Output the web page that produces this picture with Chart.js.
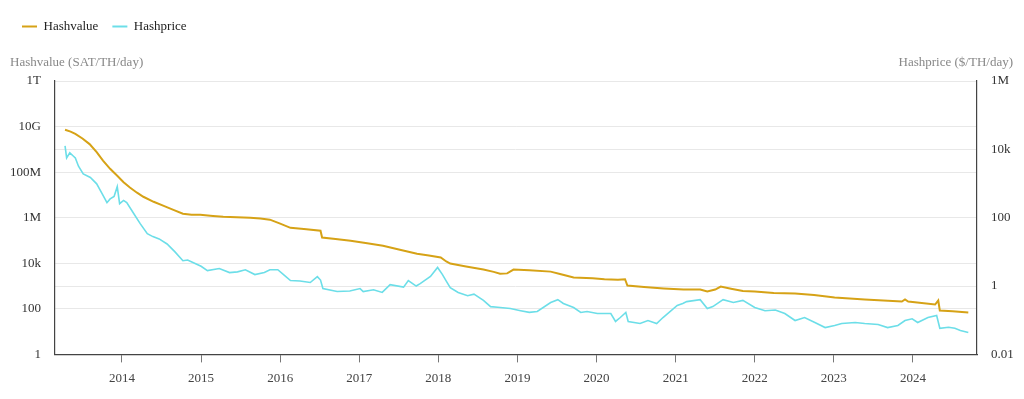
<!DOCTYPE html>
<html>
<head>
<meta charset="utf-8">
<script src="https://cdn.jsdelivr.net/npm/chart.js@4/dist/chart.umd.min.js"></script>
<style>
  html, body { margin: 0; padding: 0; background: #fff; }
  canvas { display: block; }
</style>
</head>
<body>
<canvas id="c" width="1024" height="399" style="width:1024px;height:399px"></canvas>
<script>
// ---- Data (decimal years) ----
const hvYears = [2013.28,2013.35,2013.41,2013.50,2013.59,2013.68,2013.76,2013.85,2013.94,2014.02,2014.10,2014.19,2014.27,2014.40,2014.52,2014.65,2014.77,2014.88,2014.99,2015.15,2015.28,2015.45,2015.62,2015.75,2015.87,2016.00,2016.13,2016.30,2016.51,2016.53,2016.70,2016.89,2017.10,2017.30,2017.50,2017.73,2017.88,2018.03,2018.10,2018.15,2018.35,2018.57,2018.70,2018.78,2018.87,2018.95,2019.15,2019.42,2019.55,2019.71,2019.95,2020.10,2020.27,2020.36,2020.39,2020.60,2020.85,2021.10,2021.31,2021.40,2021.50,2021.57,2021.70,2021.85,2022.00,2022.24,2022.51,2022.75,2023.01,2023.39,2023.86,2023.90,2023.94,2024.28,2024.32,2024.34,2024.50,2024.70];
const hvValues = [7.2e9,6.0e9,4.8e9,3.0e9,1.7e9,7.5e8,3.2e8,1.4e8,6.9e7,3.6e7,2.1e7,1.25e7,8.3e6,5.0e6,3.4e6,2.2e6,1.5e6,1.35e6,1.35e6,1.2e6,1.1e6,1.05e6,1.0e6,9.2e5,8.2e5,5.5e5,3.6e5,3.2e5,2.7e5,1.35e5,1.15e5,9.8e4,7.5e4,5.9e4,4.0e4,2.6e4,2.2e4,1.8e4,1.2e4,9.7e3,7.2e3,5.3e3,4.2e3,3.5e3,3.6e3,5.3e3,4.9e3,4.3e3,3.3e3,2.4e3,2.2e3,2.0e3,1.9e3,2.0e3,1.05e3,900,780,700,705,575,700,950,760,600,575,500,470,400,315,257,210,257,210,155,232,85,78,69];

const hpYears = [2013.28,2013.30,2013.34,2013.38,2013.41,2013.45,2013.51,2013.60,2013.68,2013.75,2013.81,2013.85,2013.90,2013.94,2013.97,2014.02,2014.06,2014.15,2014.23,2014.32,2014.39,2014.47,2014.57,2014.67,2014.77,2014.83,2014.89,2015.00,2015.08,2015.23,2015.36,2015.46,2015.56,2015.68,2015.80,2015.87,2015.97,2016.05,2016.13,2016.25,2016.38,2016.47,2016.51,2016.54,2016.72,2016.88,2017.01,2017.05,2017.18,2017.29,2017.39,2017.56,2017.62,2017.72,2017.77,2017.90,2017.99,2018.05,2018.10,2018.15,2018.25,2018.37,2018.45,2018.57,2018.66,2018.75,2018.91,2019.04,2019.15,2019.25,2019.42,2019.51,2019.58,2019.71,2019.80,2019.88,2020.01,2020.18,2020.24,2020.30,2020.37,2020.40,2020.55,2020.65,2020.76,2020.84,2021.02,2021.09,2021.14,2021.31,2021.40,2021.47,2021.60,2021.73,2021.85,2022.00,2022.13,2022.26,2022.38,2022.51,2022.63,2022.76,2022.89,2023.01,2023.10,2023.27,2023.39,2023.56,2023.68,2023.81,2023.90,2023.99,2024.06,2024.19,2024.30,2024.34,2024.45,2024.53,2024.60,2024.70];
const hpValues = [12600,5600,7900,6500,5600,3200,1900,1500,980,500,275,355,420,810,257,320,275,130,67,34,28,24,17,10,5.5,5.8,5.0,3.8,2.84,3.25,2.48,2.6,3.0,2.17,2.5,3.0,3.0,2.1,1.45,1.4,1.27,1.89,1.5,0.845,0.69,0.72,0.845,0.69,0.78,0.65,1.1,0.93,1.45,1.0,1.18,1.9,3.5,2.2,1.4,0.9,0.65,0.52,0.58,0.38,0.25,0.24,0.22,0.19,0.17,0.18,0.33,0.40,0.31,0.235,0.168,0.18,0.157,0.157,0.092,0.12,0.168,0.092,0.080,0.098,0.080,0.12,0.27,0.31,0.35,0.40,0.22,0.25,0.40,0.33,0.38,0.235,0.19,0.20,0.157,0.098,0.12,0.086,0.061,0.07,0.080,0.086,0.080,0.075,0.061,0.070,0.098,0.11,0.086,0.12,0.138,0.058,0.062,0.058,0.05,0.044];

const xTickYears = [2014,2015,2016,2017,2018,2019,2020,2021,2022,2023,2024];
const leftTickValues = [1,100,1e4,1e6,1e8,1e10,1e12];
const leftTickLabels = ['1','100','10k','1M','100M','10G','1T'];
const rightTickValues = [0.01,1,100,1e4,1e6];
const rightTickLabels = ['0.01','1','100','10k','1M'];
const seriesNames = ['Hashvalue','Hashprice'];
const axisTitles = ['Hashvalue (SAT/TH/day)','Hashprice ($/TH/day)'];

const GOLD = 'rgb(214,162,22)';
const CYAN = 'rgb(108,222,232)';
const FONT = '"Liberation Serif", "Times New Roman", serif';

function pairs(xs, ys) { return xs.map((x, i) => ({ x: x, y: ys[i] })); }
function labelFor(vals, labels) {
  return (v) => { const i = vals.findIndex(t => Math.abs(t - v) / t < 1e-6); return i >= 0 ? labels[i] : ''; };
}

const legendSpace = {
  id: 'legendSpace',
  beforeInit(chart) {
    const orig = chart.legend.fit;
    chart.legend.fit = function () { orig.bind(chart.legend)(); this.height += 38; };
  }
};

const axisTitlePlugin = {
  id: 'axisTitlePlugin',
  afterDraw(chart) {
    const ctx = chart.ctx;
    ctx.save();
    ctx.font = '13px ' + FONT;
    ctx.fillStyle = '#888';
    ctx.textBaseline = 'middle';
    const y = chart.chartArea.top - 18;
    ctx.textAlign = 'left';
    ctx.fillText(axisTitles[0], 10, y);
    ctx.textAlign = 'right';
    ctx.fillText(axisTitles[1], 1013, y);
    ctx.restore();
  }
};

Chart.defaults.font.family = FONT;
Chart.defaults.font.size = 13;
Chart.defaults.color = '#333';

new Chart(document.getElementById('c'), {
  type: 'line',
  data: {
    datasets: [
      { label: seriesNames[0], data: pairs(hvYears, hvValues), yAxisID: 'y',
        borderColor: GOLD, backgroundColor: GOLD, borderWidth: 2, pointRadius: 0, tension: 0 },
      { label: seriesNames[1], data: pairs(hpYears, hpValues), yAxisID: 'y1',
        borderColor: CYAN, backgroundColor: CYAN, borderWidth: 1.6, pointRadius: 0, tension: 0 }
    ]
  },
  options: {
    responsive: false,
    animation: false,
    devicePixelRatio: 1,
    layout: { padding: { left: 8, right: 10, top: 6, bottom: 5 } },
    plugins: {
      tooltip: { enabled: false },
      legend: {
        position: 'top', align: 'start',
        labels: {
          boxWidth: 15, boxHeight: 2, padding: 14, color: '#222',
          font: { size: 13, family: FONT },
          generateLabels(chart) {
            return chart.data.datasets.map((d, i) => ({
              text: d.label, fillStyle: d.borderColor, strokeStyle: d.borderColor,
              lineWidth: 0, hidden: false, datasetIndex: i, fontColor: '#222'
            }));
          }
        }
      }
    },
    scales: {
      x: {
        type: 'linear', min: 2013.153, max: 2024.81,
        afterBuildTicks(scale) { scale.ticks = xTickYears.map(v => ({ value: v })); },
        ticks: { callback: v => String(v), color: '#444', padding: 8, maxRotation: 0, autoSkip: false },
        grid: { drawOnChartArea: false, drawTicks: true, tickLength: 8, color: '#777' },
        border: { display: true, color: '#444', width: 1.2 }
      },
      y: {
        type: 'logarithmic', position: 'left', min: 1, max: 1e12,
        afterBuildTicks(scale) { scale.ticks = leftTickValues.map(v => ({ value: v })); },
        afterFit(scale) { scale.width = 47; },
        ticks: { callback: labelFor(leftTickValues, leftTickLabels), color: '#333', padding: 14, autoSkip: false },
        grid: { color: '#e8e8e8', drawTicks: false },
        border: { display: true, color: '#444', width: 1.2 }
      },
      y1: {
        type: 'logarithmic', position: 'right', min: 0.01, max: 1e6,
        afterBuildTicks(scale) { scale.ticks = rightTickValues.map(v => ({ value: v })); },
        afterFit(scale) { scale.width = 37; },
        ticks: { callback: labelFor(rightTickValues, rightTickLabels), color: '#333', padding: 14, autoSkip: false },
        grid: { color: '#e8e8e8', drawTicks: false },
        border: { display: true, color: '#444', width: 1.2 }
      }
    }
  },
  plugins: [legendSpace, axisTitlePlugin]
});
</script>
</body>
</html>
